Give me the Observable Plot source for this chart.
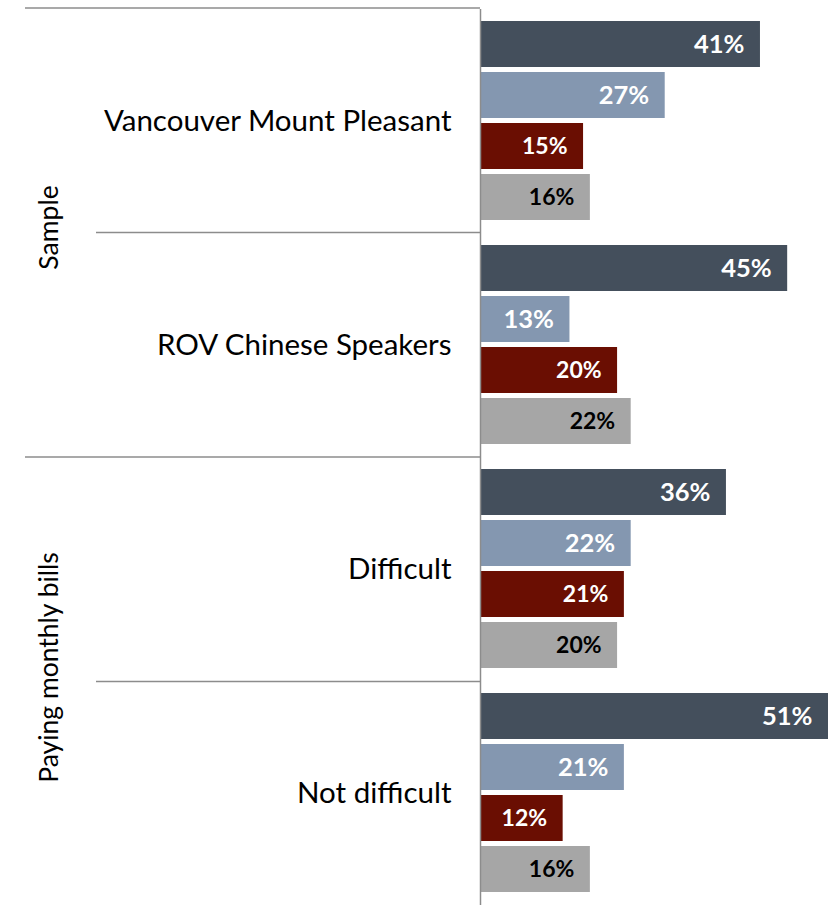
<!DOCTYPE html>
<html>
<head>
<meta charset="utf-8">
<script src="https://cdn.jsdelivr.net/npm/d3@7"></script>
<script src="https://cdn.jsdelivr.net/npm/@observablehq/plot@0.6"></script>
<style>
  html, body { margin: 0; padding: 0; background: #fff; }
  #chart svg { display: block; }
</style>
</head>
<body>
<div id="chart"></div>
<script>
// ---- data ----
const categories = ["Vancouver Mount Pleasant", "ROV Chinese Speakers", "Difficult", "Not difficult"];
const categoryGroups = ["Sample", "Sample", "Paying monthly bills", "Paying monthly bills"];
const groupNames = ["Sample", "Paying monthly bills"];
const seriesNames = ["Series 1", "Series 2", "Series 3", "Series 4"];
const series1 = [41, 45, 36, 51];
const series2 = [27, 13, 22, 21];
const series3 = [15, 20, 21, 12];
const series4 = [16, 22, 20, 16];
const seriesColors = ["#444f5c", "#8497b0", "#6a0e02", "#a6a6a6"];

// ---- table built from the arrays ----
const seriesValues = [series1, series2, series3, series4];
const rows = [];
categories.forEach((c, i) => {
  seriesNames.forEach((s, j) => {
    rows.push({category: c, group: categoryGroups[i], series: s, si: j, value: seriesValues[j][i]});
  });
});
const groupRows = groupNames.map((g, k) => ({
  group: g, k,
  anchorCategory: categories[categoryGroups.indexOf(g)]
}));

const font = "Lato, 'Open Sans', sans-serif";

const plot = Plot.plot({
  width: 838,
  height: 906,
  marginLeft: 481,
  marginRight: 10,
  marginTop: 8,
  marginBottom: -4,
  facet: {marginTop: 0, marginBottom: 0, marginLeft: 0, marginRight: 0},
  style: {fontFamily: font, fontSize: "29.5px", color: "#000", background: "#fff"},
  x: {domain: [0, 51], axis: null},
  y: {domain: seriesNames, axis: null, paddingInner: 0.097, paddingOuter: 0.215},
  fy: {domain: categories, padding: 0, axis: "left", label: null, tickSize: 0, tickPadding: 30},
  color: {domain: seriesNames, range: seriesColors},
  marks: [
    Plot.barX(rows, {x: "value", y: "series", fy: "category", fill: "series"}),
    Plot.text(rows.filter(d => d.si < 2), {
      x: "value", y: "series", fy: "category", text: d => d.value + "%",
      textAnchor: "end", dx: -16, fill: "#fff", fontWeight: "bold", fontSize: 25.5
    }),
    Plot.text(rows.filter(d => d.si === 2), {
      x: "value", y: "series", fy: "category", text: d => d.value + "%",
      textAnchor: "end", dx: -16, fill: "#fff", fontWeight: "bold", fontSize: 23
    }),
    Plot.text(rows.filter(d => d.si === 3), {
      x: "value", y: "series", fy: "category", text: d => d.value + "%",
      textAnchor: "end", dx: -16, fill: "#000", fontWeight: "bold", fontSize: 23
    }),
    Plot.ruleX([0], {stroke: "#8c8c8c", strokeWidth: 1.5, dx: -1}),
    Plot.text(groupRows.filter(d => d.k === 0), {
      fy: "anchorCategory", text: "group", frameAnchor: "bottom-left",
      textAnchor: "middle", lineAnchor: "middle",
      rotate: -90, dx: -432, dy: -6, fontSize: 26.5, fill: "#000"
    }),
    Plot.text(groupRows.filter(d => d.k === 1), {
      fy: "anchorCategory", text: "group", frameAnchor: "bottom-left",
      textAnchor: "middle", lineAnchor: "middle",
      rotate: -90, dx: -432, dy: -14, fontSize: 26.5, fill: "#000"
    })
  ]
});

document.getElementById("chart").appendChild(plot);

// separator lines at the top of each category band, positioned by Plot's fy scale
const fyInfo = plot.scale("fy");
const band = d3.scaleBand().domain(fyInfo.domain).range(fyInfo.range).padding(0);
const svg = d3.select(plot.tagName.toLowerCase() === "svg" ? plot : plot.querySelector("svg"));
categories.forEach((c, i) => {
  const first = categoryGroups.indexOf(categoryGroups[i]) === i;
  const y = band(c);
  svg.append("line")
    .attr("x1", first ? 25 : 96)
    .attr("x2", 480)
    .attr("y1", y).attr("y2", y)
    .attr("stroke", "#8c8c8c")
    .attr("stroke-width", 1.5);
});
</script>
</body>
</html>
